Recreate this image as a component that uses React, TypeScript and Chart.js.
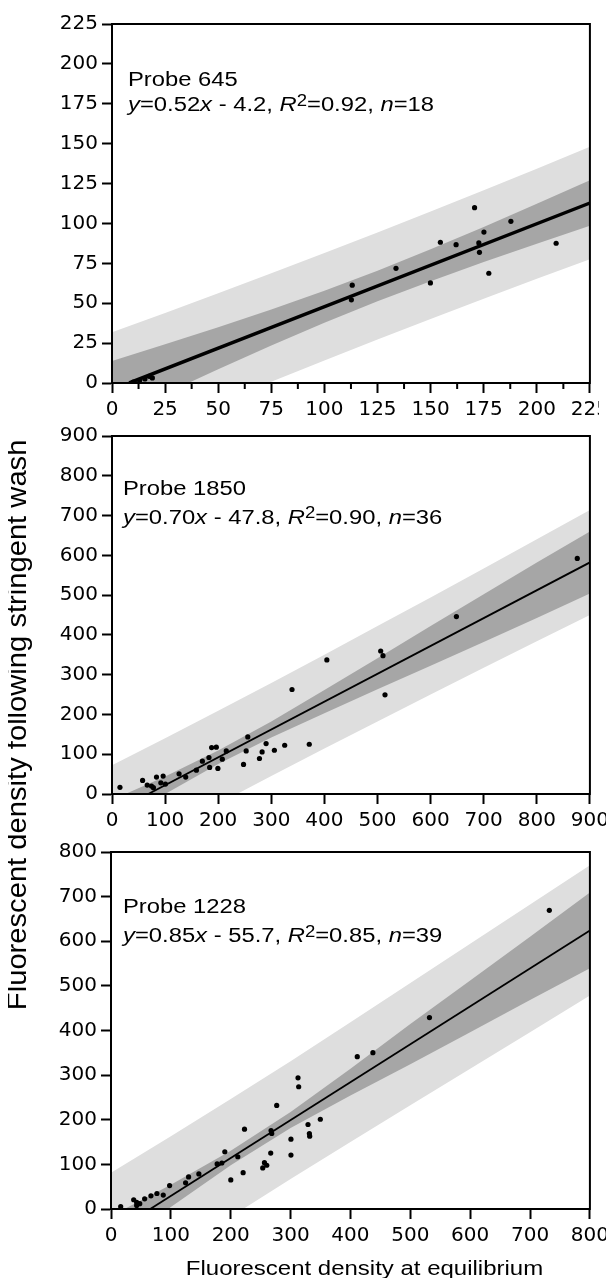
import React, { useEffect, useRef } from 'react';
import { Chart, registerables } from 'chart.js';

Chart.register(...registerables);

// ---------------- Panel 1 : Probe 645 ----------------
const p1PointsX = [10, 13, 15.5, 17.5, 19, 112.7, 113.1, 133.7, 149.9, 154.6, 162.0, 170.7, 172.7, 173.0, 175.1, 177.4, 187.8, 209.1];
const p1PointsY = [0.5, 1.5, 2.5, 4.2, 3.2, 52.1, 61.3, 71.9, 62.7, 88.2, 86.7, 109.9, 87.8, 81.9, 94.6, 68.8, 101.3, 87.6];
const p1FitX = [8.1, 225];
const p1FitY = [0, 112.8];
const p1BandX = [0, 25, 50, 75, 100, 125, 150, 175, 200, 225];
const p1ConfUpper = [13.8, 24.3, 35.0, 46.1, 57.8, 70.4, 83.8, 97.8, 112.3, 127.1];
const p1ConfLower = [-22.2, -6.7, 8.6, 23.5, 37.8, 51.2, 63.8, 75.8, 87.3, 98.5];
const p1PredUpper = [31.8, 43.8, 56.3, 68.8, 81.5, 94.4, 107.5, 120.8, 134.3, 148.0];
const p1PredLower = [-40.2, -26.2, -12.7, 0.8, 14.1, 27.2, 40.1, 52.8, 65.3, 77.6];
const p1MinorTicks = [12.5, 37.5, 62.5, 87.5, 112.5, 137.5, 162.5, 187.5, 212.5];
const p1Title = 'Probe 645';
const p1Equation = ['y', '=0.52', 'x', ' - 4.2, ', 'R', '2', '=0.92, ', 'n', '=18'];

// ---------------- Panel 2 : Probe 1850 ----------------
const p2PointsX = [15, 57.6, 66.3, 74.4, 78, 83.8, 92, 96.3, 100.7, 126.3, 138.8, 158.9, 170.2, 182.6, 183.9, 187.6, 196.4, 199.4, 207.7, 215.2, 247.7, 252.7, 255.7, 277.7, 282.7, 290.2, 305.8, 325.2, 339, 371.5, 404.6, 506, 510.3, 514.1, 648.6, 876.2];
const p2PointsY = [16.7, 34.2, 22.5, 20, 16, 42.5, 28, 45, 25, 50.8, 42.5, 60, 82.6, 91.8, 66.8, 116.8, 117.6, 64.3, 87.6, 108.3, 74.3, 108.3, 143.4, 89.3, 105.8, 126.8, 110, 122.6, 262.7, 125.1, 337, 359.5, 347.8, 249.4, 446.1, 592.2];
const p2FitX = [68.3, 900];
const p2FitY = [0, 582.2];
const p2BandX = [0, 100, 200, 300, 400, 500, 600, 700, 800, 900];
const p2ConfUpper = [-14.8, 44.2, 109.2, 182.2, 261.2, 341.2, 422.2, 502.2, 582.2, 660.2];
const p2ConfLower = [-80.8, 0.2, 75.2, 142.2, 203.2, 263.2, 322.2, 382.2, 442.2, 504.2];
const p2PredUpper = [72.2, 140.2, 209.2, 279.2, 350.2, 422.2, 494.2, 567.2, 640.2, 714.2];
const p2PredLower = [-167.8, -95.8, -24.8, 45.2, 114.2, 182.2, 250.2, 317.2, 384.2, 450.2];
const p2Title = 'Probe 1850';
const p2Equation = ['y', '=0.70', 'x', ' - 47.8, ', 'R', '2', '=0.90, ', 'n', '=36'];

// ---------------- Panel 3 : Probe 1228 ----------------
const p3PointsX = [16.2, 37.9, 42.9, 42.9, 48, 56.2, 66.7, 76.7, 87.3, 97.9, 124.6, 129.6, 146.8, 177.3, 185.1, 190.1, 200.1, 211.8, 220.7, 223, 253.5, 256.3, 260.2, 266.8, 267.4, 268.5, 276.8, 300.6, 300.6, 312.4, 313.5, 329.1, 331.4, 331.9, 349.7, 411.4, 437.5, 532, 732.2];
const p3PointsY = [5.1, 20.7, 14.7, 8, 12, 22.9, 29.6, 34.7, 31.2, 52.6, 58.6, 71.9, 78.6, 100.9, 103.1, 128.3, 65.2, 117.1, 81.5, 178.8, 92, 103.8, 98, 125.4, 175.9, 169.2, 232.2, 156.5, 120.9, 293.9, 273.9, 189.3, 169.2, 163.2, 201.1, 341.3, 350.3, 428.9, 669.3];
const p3FitX = [65.5, 800];
const p3FitY = [0, 624.3];
const p3BandX = [0, 100, 200, 300, 400, 500, 600, 700, 800];
const p3ConfUpper = [-15.7, 54.3, 130.3, 217.3, 314.3, 414.3, 512.3, 610.3, 709.3];
const p3ConfLower = [-95.7, 4.3, 98.3, 181.3, 254.3, 324.3, 396.3, 468.3, 539.3];
const p3PredUpper = [81.3, 163.3, 246.3, 331.3, 418.3, 506.3, 594.3, 682.3, 770.3];
const p3PredLower = [-192.7, -104.7, -17.7, 67.3, 150.3, 232.3, 314.3, 396.3, 478.3];
const p3Title = 'Probe 1228';
const p3Equation = ['y', '=0.85', 'x', ' - 55.7, ', 'R', '2', '=0.85, ', 'n', '=39'];

// Shared texts
const equationStyles = ['i', 'n', 'i', 'n', 'i', 's', 'n', 'i', 'n'];
const xAxisTitle = 'Fluorescent density at equilibrium';
const yAxisTitle = 'Fluorescent density following stringent wash';

const DARK = '#a6a6a6';
const LIGHT = '#dedede';
const TICK_FONT = { family: 'DejaVu Sans', size: 20 };
const TEXT_FONT = '"Liberation Sans", Arial, sans-serif';
const CANVAS_W = 606;

type PanelSpec = {
  px: number[]; py: number[];
  fitX: number[]; fitY: number[]; fitWidth: number;
  bandX: number[]; confU: number[]; confL: number[]; predU: number[]; predL: number[];
  xMax: number; xStep: number; yMax: number; yStep: number;
  minorTicks?: number[];
  title: string; equation: string[];
  textDx: number; textDy1: number; textDy2: number;
  padTop: number; axisLeft: number; xAxisHeight: number;
  canvasTop: number; canvasHeight: number;
  clipRightLabelAt?: number;
  showXTitle?: boolean;
};

const panels: PanelSpec[] = [
  {
    px: p1PointsX, py: p1PointsY, fitX: p1FitX, fitY: p1FitY, fitWidth: 3.5,
    bandX: p1BandX, confU: p1ConfUpper, confL: p1ConfLower, predU: p1PredUpper, predL: p1PredLower,
    xMax: 225, xStep: 25, yMax: 225, yStep: 25, minorTicks: p1MinorTicks,
    title: p1Title, equation: p1Equation,
    textDx: 16, textDy1: 61.5, textDy2: 87,
    padTop: 15, axisLeft: 104, xAxisHeight: 37,
    canvasTop: 0, canvasHeight: 412, clipRightLabelAt: 591,
  },
  {
    px: p2PointsX, py: p2PointsY, fitX: p2FitX, fitY: p2FitY, fitWidth: 1.8,
    bandX: p2BandX, confU: p2ConfUpper, confL: p2ConfLower, predU: p2PredUpper, predL: p2PredLower,
    xMax: 900, xStep: 100, yMax: 900, yStep: 100,
    title: p2Title, equation: p2Equation,
    textDx: 11, textDy1: 58.5, textDy2: 87.5,
    padTop: 14, axisLeft: 104, xAxisHeight: 42,
    canvasTop: 412, canvasHeight: 416,
  },
  {
    px: p3PointsX, py: p3PointsY, fitX: p3FitX, fitY: p3FitY, fitWidth: 1.8,
    bandX: p3BandX, confU: p3ConfUpper, confL: p3ConfLower, predU: p3PredUpper, predL: p3PredLower,
    xMax: 800, xStep: 100, yMax: 800, yStep: 100,
    title: p3Title, equation: p3Equation,
    textDx: 12, textDy1: 60.5, textDy2: 90,
    padTop: 14, axisLeft: 103, xAxisHeight: 69,
    canvasTop: 828, canvasHeight: 442, showXTitle: true,
  },
];

function xy(xs: number[], ys: number[]) {
  return xs.map((x, i) => ({ x, y: ys[i] }));
}

function drawScaledText(ctx: CanvasRenderingContext2D, segs: string[], styles: string[] | null, x: number, y: number, size: number, sx: number, align: 'left' | 'center' = 'left') {
  ctx.save();
  ctx.fillStyle = '#000';
  ctx.textBaseline = 'alphabetic';
  ctx.textAlign = 'left';
  const fontFor = (st: string) => {
    const fs = st === 's' ? size * 0.78 : size;
    return `${st === 'i' ? 'italic ' : ''}${fs}px ${TEXT_FONT}`;
  };
  let total = 0;
  segs.forEach((t, i) => { ctx.font = fontFor(styles ? styles[i] : 'n'); total += ctx.measureText(t).width; });
  ctx.translate(x, y);
  ctx.scale(sx, 1);
  let cx = align === 'center' ? -total / 2 : 0;
  segs.forEach((t, i) => {
    const st = styles ? styles[i] : 'n';
    ctx.font = fontFor(st);
    ctx.fillText(t, cx, st === 's' ? -5.5 : 0);
    cx += ctx.measureText(t).width;
  });
  ctx.restore();
}

function buildConfig(p: PanelSpec): any {
  const band = { showLine: true, borderWidth: 0, borderColor: 'rgba(0,0,0,0)', pointRadius: 0, pointHoverRadius: 0, tension: 0 };
  const decor = {
    id: 'decor',
    afterDraw(chart: any) {
      const { ctx, chartArea } = chart;
      const { left, top, right, bottom } = chartArea;
      ctx.save();
      ctx.strokeStyle = '#000';
      ctx.lineWidth = 2;
      ctx.strokeRect(left, top, right - left, bottom - top);
      if (p.minorTicks) {
        const xs = chart.scales.x;
        ctx.beginPath();
        p.minorTicks.forEach((v) => {
          const px = xs.getPixelForValue(v);
          ctx.moveTo(px, bottom);
          ctx.lineTo(px, bottom + 6);
        });
        ctx.stroke();
      }
      if (p.clipRightLabelAt) {
        ctx.fillStyle = '#fff';
        ctx.fillRect(p.clipRightLabelAt, bottom + 12, chart.width - p.clipRightLabelAt, chart.height - bottom - 12);
      }
      ctx.restore();
      drawScaledText(ctx, [p.title], null, left + p.textDx, top + p.textDy1, 20, 1.19);
      drawScaledText(ctx, p.equation, equationStyles, left + p.textDx, top + p.textDy2, 20, 1.19);
      if (p.showXTitle) {
        drawScaledText(ctx, [xAxisTitle], null, 356.5, 438.8, 20.5, 1.17, 'center');
      }
    },
  };
  return {
    type: 'scatter',
    data: {
      datasets: [
        { data: xy(p.px, p.py), showLine: false, pointRadius: 2.6, pointHoverRadius: 2.6, pointBackgroundColor: '#000', pointBorderColor: '#000', pointBorderWidth: 0 },
        { data: xy(p.fitX, p.fitY), showLine: true, borderColor: '#000', borderWidth: p.fitWidth, pointRadius: 0, pointHoverRadius: 0, tension: 0, fill: false },
        { ...band, data: xy(p.bandX, p.confU), fill: '+1', backgroundColor: DARK },
        { ...band, data: xy(p.bandX, p.confL), fill: false },
        { ...band, data: xy(p.bandX, p.predU), fill: '+1', backgroundColor: LIGHT },
        { ...band, data: xy(p.bandX, p.predL), fill: false },
      ],
    },
    options: {
      animation: false,
      responsive: false,
      events: [],
      layout: { padding: { top: p.padTop, right: 21, left: 0, bottom: 0 } },
      plugins: { legend: { display: false }, tooltip: { enabled: false } },
      scales: {
        x: {
          type: 'linear', position: 'bottom', min: 0, max: p.xMax,
          ticks: { stepSize: p.xStep, font: TICK_FONT, color: '#000', padding: 5, maxRotation: 0, autoSkip: false },
          grid: { drawOnChartArea: false, drawTicks: true, tickLength: 10, tickWidth: 2, tickColor: '#000', color: '#000' },
          border: { display: true, color: '#000', width: 2 },
          afterFit: (s: any) => { s.height = p.xAxisHeight; },
        },
        y: {
          type: 'linear', position: 'left', min: 0, max: p.yMax,
          ticks: { stepSize: p.yStep, font: TICK_FONT, color: '#000', padding: 4, autoSkip: false },
          grid: { drawOnChartArea: false, drawTicks: true, tickLength: 10, tickWidth: 2, tickColor: '#000', color: '#000' },
          border: { display: true, color: '#000', width: 2 },
          afterFit: (s: any) => { s.width = p.axisLeft; },
        },
      },
    },
    plugins: [decor],
  };
}

function Panel({ spec }: { spec: PanelSpec }) {
  const ref = useRef<HTMLCanvasElement>(null);
  useEffect(() => {
    const chart = new Chart(ref.current as HTMLCanvasElement, buildConfig(spec));
    return () => chart.destroy();
  }, [spec]);
  return (
    <canvas
      ref={ref}
      width={CANVAS_W}
      height={spec.canvasHeight}
      style={{ position: 'absolute', left: 0, top: spec.canvasTop, width: CANVAS_W, height: spec.canvasHeight }}
    />
  );
}

export default function App() {
  useEffect(() => {
    document.documentElement.style.overflow = 'hidden';
    document.body.style.overflow = 'hidden';
  }, []);
  const cx = 9;
  const cy = 717;
  return (
    <div style={{ position: 'relative', width: CANVAS_W, height: 1270, background: '#fff' }}>
      {panels.map((p, i) => <Panel key={i} spec={p} />)}
      <div
        style={{
          position: 'absolute', left: cx - 320, top: cy - 20, width: 640, height: 40,
          display: 'flex', alignItems: 'center', justifyContent: 'center',
          transform: 'rotate(-90deg)', fontFamily: TEXT_FONT, fontSize: 27, lineHeight: '40px',
          whiteSpace: 'nowrap', color: '#000',
        }}
      >
        <span style={{ display: 'inline-block', transform: 'scale(1.08, 1.0)' }}>{yAxisTitle}</span>
      </div>
    </div>
  );
}
